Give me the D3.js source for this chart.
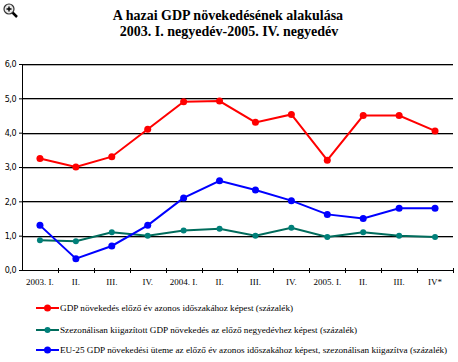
<!DOCTYPE html>
<html>
<head>
<meta charset="utf-8">
<script src="https://cdn.jsdelivr.net/npm/d3@7"></script>
<style>
  body { margin: 0; background: #fff; }
  svg { display: block; }
</style>
</head>
<body>
<svg id="chart" width="458" height="362"></svg>
<script>
// Data
var quarters = ["2003. I.", "II.", "III.", "IV.", "2004. I.", "II.", "III.", "IV.", "2005. I.", "II.", "III.", "IV*"];
var gdpYoY = [3.25, 3.0, 3.3, 4.1, 4.9, 4.92, 4.3, 4.53, 3.2, 4.5, 4.5, 4.05];
var gdpSeasonal = [0.87, 0.84, 1.1, 1.0, 1.15, 1.2, 1.0, 1.23, 0.96, 1.1, 1.0, 0.96];
var eu25 = [1.3, 0.33, 0.7, 1.3, 2.1, 2.6, 2.33, 2.02, 1.62, 1.5, 1.8, 1.8];
var yTicks = [0, 1, 2, 3, 4, 5, 6];
var seriesNames = [
    "GDP növekedés előző év azonos időszakához képest (százalék)",
    "Szezonálisan kiigazított GDP növekedés az előző negyedévhez képest (százalék)",
    "EU-25 GDP növekedési üteme az előző év azonos időszakához képest, szezonálisan kiigazítva (százalék)"
];
var seriesColors = ["#ff0000", "#006c5c", "#0000ff"];
var markerColors = ["#ff0000", "#00807a", "#0000ff"];

var margin = { top: 64, right: 5, bottom: 92, left: 22 },
    width = 458 - margin.left - margin.right,
    height = 362 - margin.top - margin.bottom;

var svg = d3.select("#chart");

// Magnifier icon
var icon = svg.append("g").attr("transform", "translate(3,3)");
icon.append("line").attr("x1", 8).attr("y1", 8).attr("x2", 14).attr("y2", 14)
    .attr("stroke", "#000").attr("stroke-width", 2.5);
icon.append("circle").attr("cx", 6).attr("cy", 6).attr("r", 5)
    .attr("fill", "#e8e8e8").attr("stroke", "#333").attr("stroke-width", 1.2);
icon.append("path").attr("d", "M3.5,6H8.5M6,3.5V8.5").attr("stroke", "#000").attr("stroke-width", 1.4);

// Title
var title = svg.append("text")
    .attr("text-anchor", "middle")
    .style("font-family", "'Liberation Serif', 'Times New Roman', serif")
    .style("font-size", "14px")
    .style("font-weight", "bold");
title.append("tspan").attr("x", 228).attr("y", 20).text("A hazai GDP növekedésének alakulása");
title.append("tspan").attr("x", 229).attr("y", 36).text("2003. I. negyedév-2005. IV. negyedév");

var g = svg.append("g").attr("transform", "translate(" + margin.left + "," + margin.top + ")");

// Scales (index domain, since quarter labels repeat)
var xScale = d3.scaleBand().domain(d3.range(quarters.length)).range([0, width]);
var yScale = d3.scaleLinear().domain([0, 6]).range([height, 0]);
var xMid = function (i) { return xScale(i) + xScale.bandwidth() / 2; };

// Gridlines (black with grey shadow)
var gridVals = yTicks.filter(function (d) { return d > 0; });
g.selectAll(".grid-shadow")
    .data(gridVals)
    .enter().append("line")
    .attr("x1", 0).attr("x2", width)
    .attr("y1", function (d) { return Math.round(yScale(d)) + 1.5; })
    .attr("y2", function (d) { return Math.round(yScale(d)) + 1.5; })
    .attr("stroke", "#b0b0b0");
g.selectAll(".grid")
    .data(gridVals)
    .enter().append("line")
    .attr("x1", 0).attr("x2", width)
    .attr("y1", function (d) { return Math.round(yScale(d)) + 0.5; })
    .attr("y2", function (d) { return Math.round(yScale(d)) + 0.5; })
    .attr("stroke", "#000");

// Y axis
var yAxis = d3.axisLeft(yScale).tickValues(yTicks).tickSize(3).tickPadding(3)
    .tickFormat(function (d) { return d3.format(".1f")(d).replace(".", ","); });
var yG = g.append("g").call(yAxis);
yG.select(".domain").attr("d", "M0.5,0V" + height);
yG.selectAll("text")
    .style("font-family", "Verdana, 'DejaVu Sans', sans-serif")
    .style("font-size", "8px")
    .style("letter-spacing", "-0.5px")
    .attr("dy", "0.35em");

// X axis
var xAxis = d3.axisBottom(xScale).tickSize(0).tickPadding(9)
    .tickFormat(function (i) { return quarters[i]; });
var xG = g.append("g").attr("transform", "translate(0," + height + ")").call(xAxis);
xG.select(".domain").attr("d", "M0,0.5H" + width);
xG.selectAll("text")
    .style("font-family", "'Liberation Serif', 'Times New Roman', serif")
    .style("font-size", "9px");
// tick marks at band boundaries
xG.selectAll(".bound")
    .data(d3.range(quarters.length))
    .enter().append("line")
    .attr("x1", function (i) { return Math.round(xScale(i) + xScale.bandwidth()) + 0.5; })
    .attr("x2", function (i) { return Math.round(xScale(i) + xScale.bandwidth()) + 0.5; })
    .attr("y1", -2).attr("y2", 3)
    .attr("stroke", "#000");

// Lines
var allSeries = [gdpYoY, gdpSeasonal, eu25];
var line = d3.line()
    .x(function (d, i) { return xMid(i); })
    .y(function (d) { return yScale(d); });

allSeries.forEach(function (vals, k) {
    g.append("path")
        .datum(vals)
        .attr("fill", "none")
        .attr("stroke", seriesColors[k])
        .attr("stroke-width", 2)
        .attr("d", line);
    g.selectAll(".m" + k)
        .data(vals)
        .enter().append("circle")
        .attr("cx", function (d, i) { return xMid(i); })
        .attr("cy", function (d) { return yScale(d); })
        .attr("r", k === 1 ? 3 : 3.5)
        .attr("fill", markerColors[k]);
});

// Legend
var legend = svg.append("g");
var legendY = [308, 330, 350];
seriesNames.forEach(function (name, k) {
    var row = legend.append("g").attr("transform", "translate(0," + legendY[k] + ")");
    row.append("line").attr("x1", 36).attr("x2", 59).attr("y1", 0).attr("y2", 0)
        .attr("stroke", seriesColors[k]).attr("stroke-width", 2);
    row.append("circle").attr("cx", 47.5).attr("cy", 0).attr("r", k === 1 ? 3 : 3.5)
        .attr("fill", markerColors[k]);
    row.append("text").attr("x", 60).attr("y", 3)
        .style("font-family", "'Liberation Serif', 'Times New Roman', serif")
        .style("font-size", "9.2px")
        .text(name);
});
</script>
</body>
</html>
